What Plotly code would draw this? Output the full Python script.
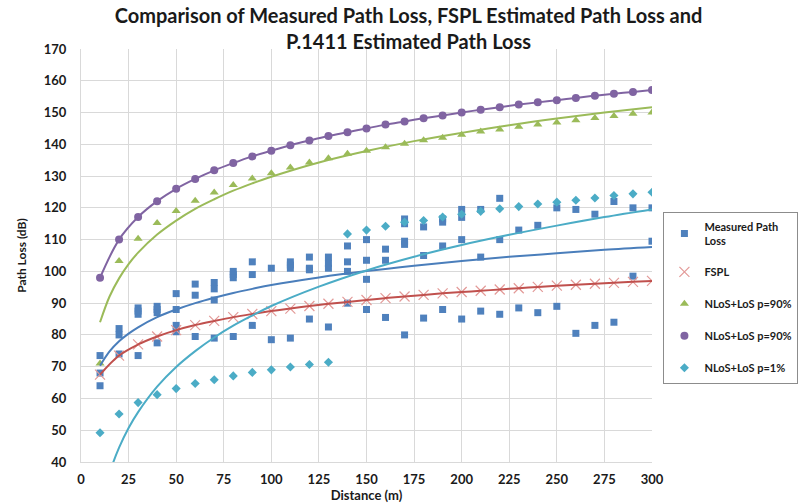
import plotly.graph_objects as go

# ---- data ----
distances = [10, 20, 30, 40, 50, 60, 70, 80, 90, 100, 110, 120, 130, 140, 150,
             160, 170, 180, 190, 200, 210, 220, 230, 240, 250, 260, 270, 280, 290, 300]

measured = {
    10: [73.5, 68, 64], 20: [82, 80, 74], 30: [88.5, 87.5, 86.5, 73.5],
    40: [89, 88, 87, 77.5], 50: [93, 88, 83, 81], 60: [96, 92.5, 79.5],
    70: [96.5, 94.5, 91, 79], 80: [100, 99, 98, 79.5], 90: [103, 99, 83],
    100: [101, 78.5], 110: [103, 102, 101, 79], 120: [104.5, 101, 100.5, 85],
    130: [104.5, 102.5, 101, 82.5], 140: [108, 103, 100, 90],
    150: [110, 103.5, 97.5, 88], 160: [107, 103.5, 85.5],
    170: [116.5, 115, 109.5, 108.5, 80], 180: [114, 105, 85.3],
    190: [116.5, 115.5, 108, 88], 200: [119.5, 117, 110, 85],
    210: [119.5, 104.5, 87.5], 220: [123, 110, 86.5], 230: [113, 88.5],
    240: [114.5, 87], 250: [120, 89], 260: [119.5, 80.5], 270: [118, 83],
    280: [122, 84], 290: [120, 98.5], 300: [120, 109.5],
}

fspl = [67.5, 73.5, 77.0, 79.5, 81.5, 83.1, 84.4, 85.6, 86.6, 87.5, 88.3, 89.1, 89.8, 90.4, 91.0,
        91.6, 92.1, 92.6, 93.1, 93.5, 93.9, 94.3, 94.7, 95.1, 95.5, 95.8, 96.1, 96.4, 96.7, 97.0]

nlos_green = [71, 103.3, 110.3, 115.2, 119, 122.2, 124.8, 127.2, 129.2, 130.9, 132.7, 134.3, 135.6,
              137, 138, 139.1, 140.2, 141.3, 142.1, 143, 144, 144.7, 145.5, 146.2, 146.9, 147.6,
              148.3, 148.9, 149.6, 150]

nlos_purple = [98, 110, 117.1, 122.1, 126, 129.1, 131.8, 134.1, 136.2, 138, 139.7, 141.2, 142.6,
               143.8, 145, 146.2, 147.2, 148.2, 149.1, 150, 150.9, 151.7, 152.5, 153.2, 153.9,
               154.6, 155.3, 155.9, 156.5, 157.1]

nlos_cyan = [49.2, 55.1, 58.7, 61.2, 63.1, 64.7, 65.9, 67.1, 68.2, 69, 69.9, 70.7, 71.4,
             111.8, 113, 114.2, 115.5, 116, 117.1, 118, 118.9, 119.7, 120.4, 121.2, 121.8,
             122.4, 123.1, 123.9, 124.4, 124.9]

# trendlines
trend_d = [10, 15, 20, 25, 30, 40, 50, 60, 70, 80, 90, 100, 125, 150, 175, 200, 225, 250, 275, 300]
trend_measured = [70.3, 74.8, 78.0, 80.4, 82.4, 85.6, 88.0, 90.0, 91.7, 93.2, 94.5, 95.7, 98.1,
                  100.1, 101.8, 103.3, 104.6, 105.7, 106.8, 107.7]
trend_green = [84.0, 92.1, 97.8, 102.3, 105.9, 111.6, 116.0, 119.7, 122.7, 125.4, 127.7, 129.8,
               134.3, 137.9, 141.0, 143.6, 146.0, 148.1, 150.0, 151.7]
trend_cyan = [25.3, 36.5, 44.5, 50.7, 55.7, 63.7, 69.9, 74.9, 79.2, 82.9, 86.1, 89.1, 95.2,
              100.3, 104.6, 108.3, 111.5, 114.4, 117.1, 119.5]

meas_x = [d for d in distances for _ in measured[d]]
meas_y = [v for d in distances for v in measured[d]]

BLUE = "#4F81BD"
RED = "#C0504D"
PINK = "#E39A98"
GREEN = "#9BBB59"
PURPLE = "#8064A2"
CYAN = "#4BACC6"

fig = go.Figure()

fig.add_trace(go.Scatter(x=meas_x, y=meas_y, mode="markers", name="Measured Path<br>Loss",
                         legendgroup="a",
                         marker=dict(symbol="square", size=7, color=BLUE)))
fig.add_trace(go.Scatter(x=distances, y=fspl, mode="markers", name="FSPL", legendgroup="b",
                         marker=dict(symbol="x-thin-open", size=10, color=PINK,
                                     line=dict(color=PINK, width=1.2))))
fig.add_trace(go.Scatter(x=distances, y=nlos_green, mode="markers", name="NLoS+LoS p=90%",
                         legendgroup="c",
                         marker=dict(symbol="triangle-up", size=8, color=GREEN)))
fig.add_trace(go.Scatter(x=distances, y=nlos_purple, mode="markers", name="NLoS+LoS p=90%",
                         legendgroup="d",
                         marker=dict(symbol="circle", size=8, color=PURPLE)))
fig.add_trace(go.Scatter(x=distances, y=nlos_cyan, mode="markers", name="NLoS+LoS p=1%",
                         legendgroup="e",
                         marker=dict(symbol="diamond", size=7, color=CYAN)))

# trend / connecting lines
fig.add_trace(go.Scatter(x=trend_d, y=trend_measured, mode="lines", showlegend=False,
                         line=dict(color="#4A7EBB", width=2, shape="spline")))
fig.add_trace(go.Scatter(x=distances, y=fspl, mode="lines", showlegend=False,
                         line=dict(color=RED, width=2, shape="spline")))
fig.add_trace(go.Scatter(x=trend_d, y=trend_green, mode="lines", showlegend=False,
                         line=dict(color=GREEN, width=2, shape="spline")))
fig.add_trace(go.Scatter(x=distances, y=nlos_purple, mode="lines", showlegend=False,
                         line=dict(color=PURPLE, width=2, shape="spline")))
fig.add_trace(go.Scatter(x=trend_d, y=trend_cyan, mode="lines", showlegend=False,
                         line=dict(color=CYAN, width=2, shape="spline")))

FONT = "Lato"
fig.update_layout(
    width=801, height=503,
    margin=dict(l=81, r=149, t=49, b=41, autoexpand=False),
    paper_bgcolor="white", plot_bgcolor="white",
    font=dict(family=FONT, color="#1a1a1a"),
    title=dict(text="Comparison of Measured Path Loss, FSPL Estimated Path Loss and<br>P.1411 Estimated Path Loss",
               x=0.51, xanchor="center", xref="container",
               y=1 - 23 / 503, yanchor="middle", yref="container",
               font=dict(family=FONT, size=20, weight="bold", color="#1a1a1a")),
    xaxis=dict(range=[0, 300], tickmode="array", tickvals=list(range(0, 301, 25)),
               showgrid=True, gridcolor="#D9D9D9", gridwidth=1, zeroline=False,
               showline=True, linecolor="#D9D9D9", ticks="", ticklabelstandoff=5,
               tickfont=dict(family=FONT, size=13, weight="bold"),
               title=dict(text="Distance (m)", font=dict(family=FONT, size=13, weight="bold"),
                          standoff=4)),
    yaxis=dict(range=[40, 170], tickmode="array", tickvals=list(range(40, 171, 10)),
               showgrid=True, gridcolor="#D9D9D9", gridwidth=1, zeroline=False,
               showline=True, linecolor="#D9D9D9", ticks="", ticklabelstandoff=11,
               tickfont=dict(family=FONT, size=13, weight="bold"),
               title=dict(text="Path Loss (dB)", font=dict(family=FONT, size=12, weight="bold"),
                          standoff=14)),
    legend=dict(x=1.02, y=0.606, xanchor="left", yanchor="top",
                bordercolor="#8c8c8c", borderwidth=1, bgcolor="white",
                font=dict(family=FONT, size=11, weight="bold"),
                tracegroupgap=13, itemwidth=30),
)

fig.write_html("out.html")
